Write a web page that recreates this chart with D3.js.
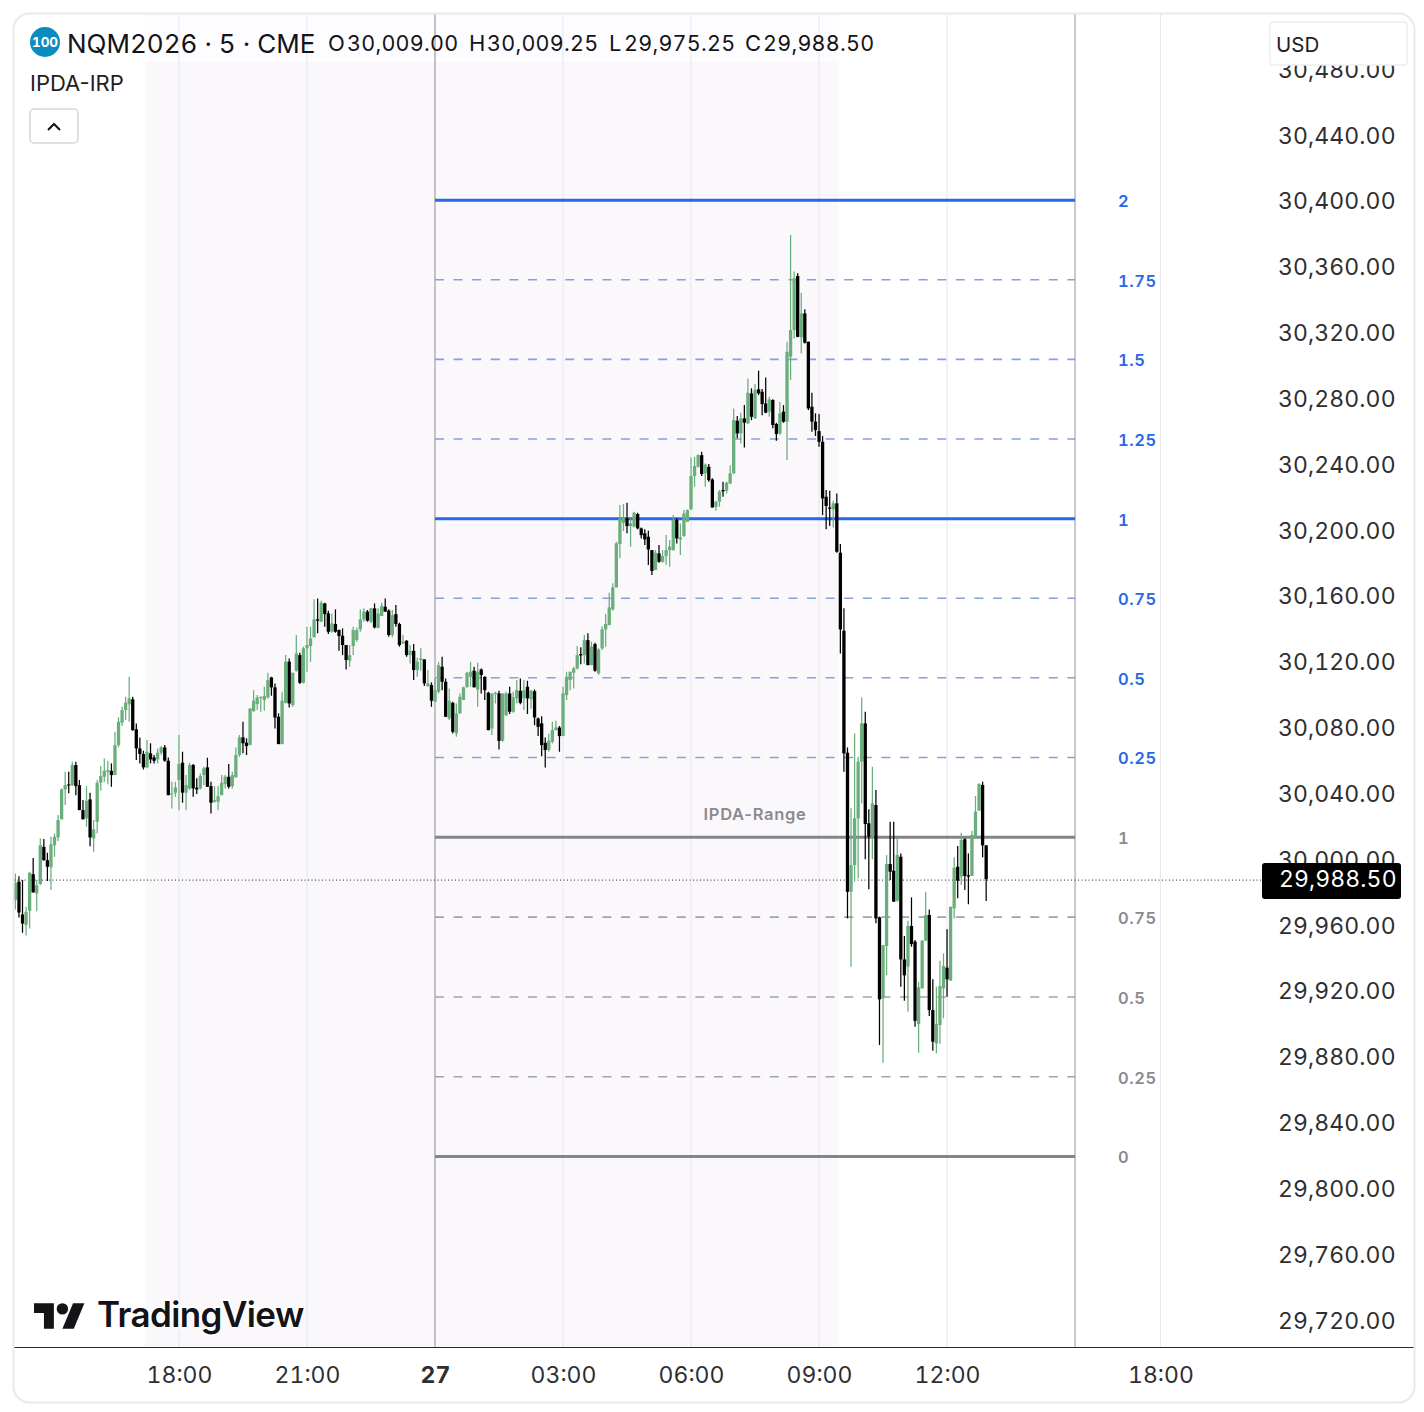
<!DOCTYPE html>
<html>
<head>
<meta charset="utf-8">
<title>NQM2026</title>
<script src="https://cdn.jsdelivr.net/npm/d3@7"></script>
<style>
    html, body { margin: 0; padding: 0; background: #fff; }
    svg { display: block; font-family: Inter, "Noto Sans", sans-serif; font-variant-numeric: tabular-nums; }
    .plain { font-variant-numeric: normal; }
</style>
</head>
<body>
<div id="chart"></div>
<script>
// 5 minute bars
var opens = [
    29975.7,29986.9,29967,29960.5,29969.2,29991.5,29979.8,29985.5,30008.1,30000,
    29995.6,30009,30013.8,30024.8,30043,30046,30045.6,30057.8,30045.6,30030.4,
    30025.4,30036.9,30013.2,30023.3,30047,30050.7,30053.7,30054.3,30051.7,30069.9,
    30083.5,30091.2,30094.7,30097.7,30079.5,30067.9,30064.5,30056.4,30064.9,30062.4,
    30061.2,30065.3,30068.5,30060.4,30039.9,30041,30048.7,30059.2,30041,30043.6,
    30057.8,30044,30043.6,30051.7,30056.4,30045,30035.5,30035.5,30039.5,30046.2,
    30050.7,30045,30050.3,30063.9,30074.6,30071.4,30069.9,30090.6,30094.8,30098.5,
    30097.3,30098.9,30111,30105,30087.1,30070.5,30095.6,30120.6,30094.2,30115.1,
    30124.6,30107.8,30128.7,30130.1,30135.4,30146.3,30144.9,30156,30149.9,30138.8,
    30143.5,30139.8,30136.4,30130.7,30121.2,30130.1,30133.7,30140.2,30146.3,30151,
    30144.9,30153,30141.2,30148.3,30154,30151.6,30136.8,30149.5,30143.5,30131.7,
    30133.3,30124.6,30127.2,30115.5,30121.6,30122,30105.8,30106.4,30096.2,30102.3,
    30117.5,30108.4,30086.1,30095.6,30077,30089.2,30097.3,30105,30111.4,30115.1,
    30103.7,30115.9,30111.4,30101.7,30080,30100.9,30101.3,30072.5,30088.1,30101.3,
    30090.2,30098.3,30102.9,30098.3,30105.4,30097.7,30102.7,30086.1,30083.1,30071.3,
    30066.9,30071.9,30079,30080.6,30075.4,30100.3,30109.4,30113.9,30116.5,30125.2,
    30124.6,30133.7,30118.5,30131.3,30113.5,30128.7,30140.2,30142.8,30152.4,30165.7,
    30192.1,30205,30207.7,30203,30202.6,30210.3,30201.6,30198.6,30196.5,30188.4,
    30176.3,30186.4,30181.3,30184.8,30188.4,30188.4,30206.7,30194.9,30196.9,30205.6,
    30213.1,30233.4,30239,30246.1,30235,30239,30231.3,30214.7,30217.8,30224.9,
    30224.5,30228.9,30235,30267,30259.3,30268.4,30265.4,30283.6,30268.4,30286.1,
    30284.6,30277.5,30272.5,30279.6,30265,30259.3,30272.5,30266.4,30305.9,30322.1,
    30354.9,30317.7,30332.2,30315,30275.5,30266.4,30260.7,30254.2,30220.8,30214.3,
    30213.1,30216.8,30186.8,30139.4,30065.3,29980.8,29997,30025.4,30059.8,30083.1,
    30022.4,30014.3,30033.5,29965.3,29916,29947.8,29997.7,29993.6,29975.4,30002.1,
    29939.7,29935.3,29960,29950.5,29900.4,29922.1,29951.1,29966.7,29908.9,29888.7,
    29899.8,29922.1,29934.7,29926.8,29970.7,29996,29990,30012.7,29990.8,29990.4,
    30014.3,30030.1,30045.7,30009
];
var highs = [
    29991.9,29990.3,29987.9,29971.7,29992.7,30001.3,29987.9,30013.2,30012.8,30004.5,
    30014.2,30016.2,30027.4,30043.6,30053.7,30053.7,30059.8,30059.8,30048.7,30036.5,
    30045,30041,30024.4,30048.7,30057.2,30061.8,30060.4,30058.8,30078,30086.8,
    30093.2,30099.3,30111.5,30099.3,30083.1,30074.6,30066.5,30073,30071,30063.9,
    30067.9,30069.3,30069.9,30062.4,30047.6,30047.6,30076,30065.9,30051.7,30059.2,
    30058.4,30049.7,30052.7,30056.8,30062.2,30047.6,30045,30045,30051.7,30051.7,
    30058.4,30053.7,30068.5,30076,30084.1,30074,30092.2,30103.3,30100.3,30099.3,
    30105.4,30113.9,30111.4,30107.4,30089.2,30102.3,30124.6,30122.6,30113.9,30136.8,
    30126,30129.7,30141.8,30141.8,30158.5,30159,30157.6,30156.4,30151.6,30149.9,
    30152.4,30140.2,30140.8,30130.7,30130.7,30141.8,30141.4,30152.4,30153,30152,
    30153,30156,30153,30156.4,30159,30152.4,30152,30155,30144.3,30136.8,
    30133.7,30130.7,30131.3,30123.2,30128.7,30122,30115.5,30108,30110.4,30120.6,
    30123.6,30110.4,30104.3,30096.2,30095.2,30101.3,30105.4,30114.5,30120.6,30117.5,
    30120,30116.5,30111.8,30102.3,30101.3,30102.3,30102.9,30101.3,30102.3,30105.4,
    30102.3,30109.4,30110.4,30109.4,30109,30103.3,30103.7,30086.7,30087.5,30074.6,
    30077,30084.1,30084.7,30081.5,30105.4,30114.5,30114.5,30117.5,30130.1,30129.3,
    30136.8,30137.8,30132.7,30132.1,30128.7,30142.2,30149.5,30162.5,30168.2,30193.5,
    30215.8,30216.4,30217.2,30207.7,30211.7,30211.1,30202.2,30201,30200.2,30188.4,
    30188.4,30191.5,30188.4,30197.5,30194.5,30209.7,30207.7,30204.6,30212.7,30213.1,
    30244.7,30245.1,30246.7,30248.2,30241,30240.7,30232,30218.4,30224.9,30229.9,
    30229.9,30240,30274.5,30269.8,30271.9,30276.5,30292.7,30286.7,30289.3,30297.4,
    30286.3,30293.3,30281.6,30280,30265.8,30278.6,30276.5,30315,30379.9,30357.6,
    30356.6,30344.8,30334.7,30315,30284,30271.5,30271.1,30257.7,30224.9,30224.5,
    30218.4,30222.8,30192.1,30153,30068.5,30031.5,30077,30062.8,30098.9,30090.2,
    30030.9,30056.8,30042.6,29965.7,29948.4,30003.1,30023.4,30023.4,30013.3,30004.1,
    29953.9,29963.2,29977.4,29951.5,29926.1,29951.5,29980.8,29970.1,29927.6,29923.1,
    29938.9,29943.4,29958,29971.7,30001.7,30008.6,30016.7,30013.3,30004.1,30017.9,
    30039,30046.7,30047.7,30009.25
];
var lows = [
    29970,29965.2,29955.9,29954.3,29958.5,29980.4,29969,29984.8,29999.6,29987.3,
    29981.8,30002,30011.6,30024.8,30033.5,30040.6,30045,30039.5,30030.4,30024.8,
    30020.3,30008.5,30005.1,30016.2,30042.2,30047.6,30046.2,30044.6,30051.7,30068.5,
    30081.5,30085.1,30084.1,30078.6,30060.8,30058.8,30055.1,30055.8,30058.8,30058.8,
    30058.8,30063.9,30059.8,30039.5,30031.4,30038.5,30030.4,30034.9,30030.4,30042.6,
    30038.5,30040.2,30043,30045.6,30044.6,30028.4,30034.9,30030.4,30039.5,30043.6,
    30043.6,30043.6,30050.3,30062.8,30064.9,30063.9,30069.9,30090.2,30091.2,30090.2,
    30090.8,30098.3,30099.9,30080,30070.5,30070.5,30095.2,30092.8,30093.2,30114.5,
    30107,30107.4,30114.5,30120.6,30135.4,30137.8,30144.9,30141.8,30137.4,30138.2,
    30138.2,30127.2,30124.6,30115.9,30117.5,30124.6,30132.7,30138.8,30144.9,30144.9,
    30143.9,30140.8,30140.8,30148.3,30151,30135.8,30135.4,30141.8,30129.7,30131.3,
    30123.6,30119.5,30109.4,30111.4,30115.1,30105.8,30105.4,30093.2,30096.2,30101.3,
    30103.3,30087.1,30085.1,30077,30075,30088.8,30097.3,30105,30105.4,30105,
    30093.2,30101.3,30097.3,30079,30076,30095.2,30067.3,30071.9,30087.5,30088.8,
    30089.6,30095.2,30094.8,30091.2,30088.8,30092,30082,30075.4,30063.2,30056.3,
    30065.9,30070.9,30079,30065.9,30075.4,30097.3,30103.3,30104.3,30115.9,30119.1,
    30119.5,30118.5,30118.5,30114.5,30112.5,30127.7,30129.7,30142.8,30151.6,30165.7,
    30183.4,30200,30198.6,30190.5,30202.2,30201,30195.5,30191.5,30179.3,30173.2,
    30176.3,30180.7,30180.7,30179.3,30178.3,30188,30192.4,30185.4,30196.5,30205.6,
    30213.1,30226.9,30238.6,30233.4,30226.9,30229.9,30214.3,30212.3,30214.7,30220.8,
    30222.8,30228.5,30235,30256.3,30253.2,30250.8,30265,30267.4,30268.2,30282.6,
    30270.4,30271.5,30269.4,30262.4,30254.9,30258.3,30265.8,30243.1,30291.7,30317,
    30317.7,30307.9,30314,30273.5,30260.3,30257.7,30251.2,30209.7,30201,30203,
    30202.2,30186.8,30125.6,30053.7,29964.6,29935.3,29986.9,29989,30034.5,30000.5,
    29982.3,30000.5,29961.6,29887.7,29876.9,29930.2,29988,29974.8,29974.8,29923.1,
    29914.6,29907.9,29947.4,29898.8,29883,29922.1,29951,29905.3,29884.2,29882.6,
    29888.3,29903.9,29917,29926.8,29964.6,29976.8,29984.9,29981.9,29973.2,29990.4,
    30013.3,30030.1,30001.7,29975.25
];
var closes = [
    29986.3,29968.2,29961.5,29968.6,29992.3,29980.4,29984.8,30009,30000,29996,
    30009.6,30014.2,30024.4,30043,30045.6,30045.4,30057.8,30045,30030.4,30024.8,
    30036.1,30013.8,30018.7,30047,30051.1,30054.3,30054.7,30051.7,30069.9,30084.1,
    30091.2,30095.7,30098.3,30079,30067.9,30064.5,30056.4,30065.9,30061.2,30060.4,
    30065.3,30068.5,30060.4,30039.5,30040.6,30044.2,30058.4,30041,30045.6,30057.8,
    30043.6,30043,30051.1,30055.8,30044.6,30034.9,30036.5,30038.9,30047,30050.7,
    30044.6,30051.7,30063.9,30074.6,30071,30069.3,30092.2,30096.9,30098.9,30099.3,
    30099.7,30109.4,30105,30086.7,30070.5,30096.9,30120.6,30095.2,30113.9,30125.6,
    30107.8,30128.7,30130.7,30134.7,30146.3,30145.5,30156.4,30149.5,30138.8,30143.9,
    30138.8,30136.2,30130.7,30121.6,30124.6,30139.8,30139.8,30146.3,30151,30145.5,
    30153,30141.4,30149.9,30154.4,30151,30136.8,30148.9,30143.5,30130.7,30132.7,
    30124.6,30127.2,30115.5,30120.6,30122.6,30107.4,30107.4,30096.9,30103.3,30118.5,
    30108.4,30087.1,30096.9,30078,30089.2,30099.3,30105,30113.9,30114.5,30105,
    30114.5,30112.5,30103.3,30079,30101.3,30101.7,30072.5,30101.3,30101.3,30090.2,
    30098.9,30103.3,30095.6,30103.3,30098.3,30103,30086.7,30081,30069.9,30066.9,
    30072.5,30079,30080.6,30075.4,30101.3,30111.4,30114.5,30116.5,30124.6,30124.4,
    30133.7,30118.5,30129.7,30115.1,30128,30140.2,30143.5,30153.6,30165.7,30192.5,
    30207.7,30208,30203,30204.6,30211.1,30201.6,30197.5,30194.9,30188.8,30175.7,
    30186.8,30181.3,30184.8,30188.4,30190.5,30206.7,30195.5,30196.1,30210.7,30212.7,
    30233.4,30239.5,30246.1,30234.6,30240.3,30230.9,30214.3,30217.8,30223.9,30224.1,
    30229.3,30235,30267.4,30259.3,30268.4,30265.8,30284,30269.4,30285.7,30283.6,
    30277.1,30271.9,30280,30264.4,30258.9,30271.5,30266.4,30308.9,30322.1,30353.5,
    30318,30332.2,30314.4,30274.5,30266.4,30261.3,30254.2,30219.8,30215.2,30213.5,
    30216.8,30187.4,30140.2,30064.9,29980.8,29997,30025.4,30059.8,30083.1,30022,
    30014.3,30034.5,29964.6,29915.4,29948.4,29997.7,29993,29974.8,30003.1,29939.7,
    29930,29960,29949,29902.4,29922.7,29951.1,29966.7,29908.9,29889.7,29900.4,
    29923.5,29935.7,29927.6,29971.7,29995.4,29987.5,30012.3,29990.4,29990,30015.3,
    30029.5,30046.3,30009,29988.5
];

var priceTicks = [30480,30440,30400,30360,30320,30280,30240,30200,30160,30120,30080,30040,30000,29960,29920,29880,29840,29800,29760,29720];
var timeBars = [46,82,118,154,190,226,262,322];
var timeLabels = ["18:00","21:00","27","03:00","06:00","09:00","12:00","18:00"];

// IPDA range levels
var blueLevels = [30207.5,30255.9,30304.3,30352.7,30401];
var blueNames = ["1","1.25","1.5","1.75","2"];
var blueMid = [30062.4,30110.8,30159.1];
var blueMidNames = ["0.25","0.5","0.75"];
var grayLevels = [29820,29868.4,29916.9,29965.4,30014];
var grayNames = ["0","0.25","0.5","0.75","1"];

var lastPrice = 29988.5;
var legendItems = [["O","30,009.00",328,347],["H","30,009.25",469,487],["L","29,975.25",609,624],["C","29,988.50",745,763]];

var upColor = "#69ae7b", downColor = "#000";
var blue = "#2867e6", blueDash = "#85a0dd", gray = "#858488", grayDash = "#a3a2a6", grid = "#e7e6ea";

var width = 1424, height = 1412;
var plotTop = 14, plotBottom = 1347, plotLeft = 14, plotRight = 1414;

var x = d3.scaleLinear().domain([0, 322]).range([15.4, 1160.4]);
var y = d3.scaleLinear().domain([29720, 30440]).range([1321, 136]);

var svg = d3.select("#chart").append("svg").attr("width", width).attr("height", height);

svg.append("clipPath").attr("id", "plot").append("rect")
    .attr("x", plotLeft).attr("y", plotTop)
    .attr("width", plotRight - plotLeft).attr("height", plotBottom - plotTop);

var plot = svg.append("g").attr("clip-path", "url(#plot)");

// session shading
plot.append("rect")
    .attr("x", x(36.5)).attr("y", plotTop)
    .attr("width", x(231.5) - x(36.5)).attr("height", plotBottom - plotTop)
    .attr("fill", "#fbf8fc");

// legend backdrop
plot.append("rect")
    .attr("x", 25).attr("y", 15).attr("width", 860).attr("height", 47)
    .attr("fill", "#fff").attr("opacity", 0.6);

// grid
plot.selectAll(".grid").data(timeBars).enter().append("line")
    .attr("x1", function (d) { return x(d); }).attr("x2", function (d) { return x(d); })
    .attr("y1", plotTop).attr("y2", plotBottom)
    .attr("stroke", grid).attr("stroke-width", 1);

// range box edges
[118, 298].forEach(function (b) {
    plot.append("line")
        .attr("x1", x(b)).attr("x2", x(b)).attr("y1", plotTop).attr("y2", plotBottom)
        .attr("stroke", "#96959b").attr("stroke-width", 1);
});

function levelLines(levels, color, w, dash) {
    plot.selectAll(null).data(levels).enter().append("line")
        .attr("x1", x(118)).attr("x2", x(298))
        .attr("y1", function (d) { return y(d); }).attr("y2", function (d) { return y(d); })
        .attr("stroke", color).attr("stroke-width", w)
        .attr("stroke-dasharray", dash);
}
levelLines([blueLevels[0], blueLevels[4]], blue, 3, null);
levelLines(blueLevels.slice(1, 4).concat(blueMid), blueDash, 1.6, "9,9.6");
levelLines([grayLevels[0], grayLevels[4]], gray, 3, null);
levelLines(grayLevels.slice(1, 4), grayDash, 1.6, "9,9.6");

// last price line
plot.append("line")
    .attr("x1", plotLeft).attr("x2", 1262)
    .attr("y1", y(lastPrice) + 1).attr("y2", y(lastPrice) + 1)
    .attr("stroke", "#222").attr("stroke-width", 1).attr("stroke-dasharray", "1,2.5");

// candles
var bars = d3.range(opens.length);
var candle = plot.selectAll(".candle").data(bars).enter().append("g").attr("class", "candle");
candle.append("line")
    .attr("x1", function (i) { return x(i); }).attr("x2", function (i) { return x(i); })
    .attr("y1", function (i) { return y(highs[i]); }).attr("y2", function (i) { return y(lows[i]); })
    .attr("stroke", function (i) { return closes[i] >= opens[i] ? upColor : downColor; })
    .attr("stroke-width", 1.25);
candle.append("rect")
    .attr("x", function (i) { return x(i) - 1.65; })
    .attr("width", 3.3)
    .attr("y", function (i) { return y(Math.max(opens[i], closes[i])); })
    .attr("height", function (i) { return Math.max(1, Math.abs(y(opens[i]) - y(closes[i]))); })
    .attr("fill", function (i) { return closes[i] >= opens[i] ? upColor : downColor; });

// level labels
function levelLabels(levels, names, color) {
    svg.selectAll(null).data(levels).enter().append("text")
        .attr("x", 1118)
        .attr("y", function (d) { return y(d) + 7; })
        .attr("font-size", 16.5).attr("font-weight", 600).attr("letter-spacing", 0.6)
        .attr("fill", color)
        .text(function (d, i) { return names[i]; });
}
levelLabels(blueLevels, blueNames, blue);
levelLabels(blueMid, blueMidNames, blue);
levelLabels(grayLevels, grayNames, "#8b8a8f");

svg.append("text").attr("class", "plain")
    .attr("x", x(208)).attr("y", y(30014) - 17)
    .attr("text-anchor", "middle")
    .attr("font-size", 16.5).attr("font-weight", 600).attr("letter-spacing", 0.7)
    .attr("fill", "#8b8a8f").text("IPDA-Range");

// price axis
var priceAxis = svg.append("g")
    .attr("transform", "translate(1278,-1)")
    .call(d3.axisRight(y).tickValues(priceTicks).tickSize(0).tickPadding(0).tickFormat(d3.format(",.2f")));
priceAxis.select(".domain").remove();
priceAxis.selectAll("text")
    .attr("font-family", "Inter").attr("font-size", 23).attr("letter-spacing", 0.1)
    .attr("dy", "0.35em").attr("fill", "#2e2e33");

// time axis
svg.append("line")
    .attr("x1", plotLeft).attr("x2", plotRight).attr("y1", plotBottom + 0.5).attr("y2", plotBottom + 0.5)
    .attr("stroke", "#2b2b30").attr("stroke-width", 1.2);
var timeAxis = svg.append("g")
    .attr("transform", "translate(0," + plotBottom + ")")
    .call(d3.axisBottom(x).tickValues(timeBars).tickSize(0).tickPadding(0)
        .tickFormat(function (d) { return timeLabels[timeBars.indexOf(d)]; }));
timeAxis.select(".domain").remove();
timeAxis.selectAll("text")
    .attr("font-family", "Inter").attr("font-size", 23)
    .attr("y", 36).attr("dy", 0).attr("fill", "#2e2e33")
    .attr("font-weight", function (d) { return d === 118 ? 700 : 400; });

// price badge
svg.append("rect")
    .attr("x", 1262).attr("y", y(lastPrice) - 16).attr("width", 139).attr("height", 36).attr("rx", 3)
    .attr("fill", "#000");
svg.append("text")
    .attr("x", 1279).attr("y", y(lastPrice) + 8)
    .attr("font-size", 23).attr("letter-spacing", 0.1).attr("fill", "#fff")
    .text(d3.format(",.2f")(lastPrice));

// USD box
svg.append("rect")
    .attr("x", 1270).attr("y", 22).attr("width", 137).attr("height", 43).attr("rx", 3)
    .attr("fill", "#fff").attr("stroke", "#eeedf0").attr("stroke-width", 1.5);
svg.append("text").attr("x", 1276).attr("y", 52)
    .attr("font-size", 20.5).attr("fill", "#1d1d22").text("USD");

// legend
svg.append("circle").attr("cx", 45).attr("cy", 42).attr("r", 15).attr("fill", "#0a8cbf");
svg.append("text").attr("x", 45).attr("y", 47)
    .attr("text-anchor", "middle").attr("font-size", 13.5).attr("font-weight", 700)
    .attr("fill", "#fff").text("100");
svg.append("text").attr("x", 67).attr("y", 52.5)
    .attr("font-size", 26).attr("fill", "#131318").text("NQM2026 · 5 · CME");

var legend = svg.selectAll(".ohlc").data(legendItems).enter().append("g").attr("class", "ohlc");
legend.append("text")
    .attr("x", function (d) { return d[2]; }).attr("y", 51)
    .attr("font-size", 22).attr("fill", "#131318")
    .text(function (d) { return d[0]; });
legend.append("text")
    .attr("x", function (d) { return d[3]; }).attr("y", 51)
    .attr("font-size", 21.5).attr("letter-spacing", 0.25).attr("fill", "#131318")
    .text(function (d) { return d[1]; });

svg.append("text").attr("class", "plain").attr("x", 30).attr("y", 91)
    .attr("font-size", 22).attr("fill", "#1d1d22").text("IPDA-IRP");

// collapse button
svg.append("rect")
    .attr("x", 30).attr("y", 109).attr("width", 48).attr("height", 34).attr("rx", 4)
    .attr("fill", "#fff").attr("stroke", "#d9d6dc").attr("stroke-width", 1.5);
svg.append("path").attr("d", "M48 130l6-6 6 6")
    .attr("fill", "none").attr("stroke", "#131318").attr("stroke-width", 2);

// logo
svg.append("g").attr("transform", "translate(34,1297.5) scale(1.42)")
    .attr("fill", "#131318")
    .selectAll("path").data([
        "M14 22H7V11H0V4h14v18z",
        "M28 22h-8l7.5-18h8L28 22z"
    ]).enter().append("path").attr("d", function (d) { return d; });
svg.append("circle").attr("cx", 62.4).attr("cy", 1308.9).attr("r", 5.7).attr("fill", "#131318");
svg.append("text").attr("x", 97).attr("y", 1327)
    .attr("font-size", 35).attr("font-weight", 600).attr("letter-spacing", -0.6)
    .attr("fill", "#131318")
    .attr("stroke", "#fff").attr("stroke-width", 3).attr("paint-order", "stroke")
    .text("TradingView");

// frame
svg.append("rect")
    .attr("x", 13.5).attr("y", 13.5).attr("width", 1401).attr("height", 1389).attr("rx", 16)
    .attr("fill", "none").attr("stroke", "#e9e9eb").attr("stroke-width", 2);
</script>
</body>
</html>
